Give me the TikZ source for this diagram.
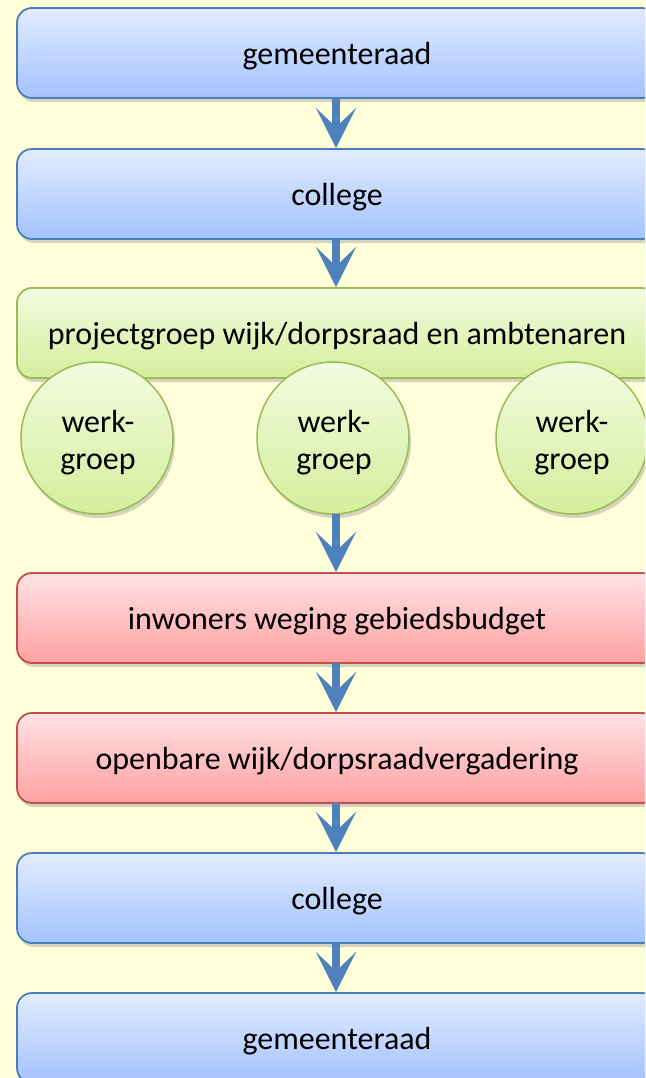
\documentclass[tikz,border=0pt]{standalone}
\usepackage{fontspec}
\setmainfont{Carlito}
\usetikzlibrary{arrows.meta,shadows}
\definecolor{bg}{HTML}{FFFFD9}
\definecolor{bluetop}{HTML}{E2ECFF}
\definecolor{bluebot}{HTML}{A3C2FE}
\definecolor{blueline}{HTML}{4A7EBB}
\definecolor{greentop}{HTML}{F2FBE0}
\definecolor{greenbot}{HTML}{D4EE9C}
\definecolor{greenline}{HTML}{9BBB59}
\definecolor{redtop}{HTML}{FFE2E5}
\definecolor{redbot}{HTML}{FFA1A1}
\definecolor{redline}{HTML}{C0504D}
\definecolor{arrowcol}{HTML}{4F81BD}
\tikzset{
  boxbase/.style={rectangle, rounded corners=15pt, minimum width=640pt, minimum height=90pt,
    line width=1.8pt, font=\fontsize{32}{38}\selectfont, text=black,
    drop shadow={shadow xshift=2pt, shadow yshift=-4pt, opacity=0.3, fill=black!55}},
  bluebox/.style={boxbase, draw=blueline, top color=bluetop, bottom color=bluebot},
  greenbox/.style={boxbase, draw=greenline, top color=greentop, bottom color=greenbot},
  redbox/.style={boxbase, draw=redline, top color=redtop, bottom color=redbot},
  wgcircle/.style={circle, minimum size=152pt, inner sep=0pt, line width=1.5pt, draw=greenline,
    top color=greentop, bottom color=greenbot, align=center,
    font=\fontsize{32}{37}\selectfont, text=black,
    drop shadow={shadow xshift=2pt, shadow yshift=-4pt, opacity=0.3, fill=black!55}},
  lbl/.style={font=\fontsize{32}{37}\selectfont, text=black, align=center, inner sep=0pt},
  flow/.style={draw=arrowcol, line width=8pt,
    -{Stealth[length=40pt, width=40pt, inset=19pt, fill=arrowcol]}, shorten <=-1pt}
}
\begin{document}
\begin{tikzpicture}[x=1pt,y=-1pt]
\useasboundingbox (0,0) rectangle (645,1078);
\clip (0,0) rectangle (645,1078);
\fill[bg] (0,0) rectangle (645,1078);
\node[bluebox] (b1) at (337,53) {};
\node[bluebox] (b2) at (337,194) {};
\node[greenbox] (b3) at (337,333) {};
\node[wgcircle] (c1) at (97,438) {};
\node[wgcircle] (c2) at (333,438) {};
\node[wgcircle] (c3) at (572,438) {};
\node[redbox] (b4) at (337,618) {};
\node[redbox] (b5) at (337,758) {};
\node[bluebox] (b6) at (337,898) {};
\node[bluebox] (b7) at (337,1038) {};
\node[lbl] (t1) at (337,56) {gemeenteraad};
\node[lbl] (t2) at (337,197) {college};
\node[lbl] (t3) at (337,336) {projectgroep wijk/dorpsraad en ambtenaren};
\node[lbl] (t4) at (98,443) {werk-\\groep};
\node[lbl] (t5) at (334,443) {werk-\\groep};
\node[lbl] (t6) at (572,443) {werk-\\groep};
\node[lbl] (t7) at (337,621) {inwoners weging gebiedsbudget};
\node[lbl] (t8) at (337,761) {openbare wijk/dorpsraadvergadering};
\node[lbl] (t9) at (337,901) {college};
\node[lbl] (t10) at (337,1041) {gemeenteraad};
\draw[flow] ([xshift=-1pt]b1.south) -- ([xshift=-1pt]b2.north);
\draw[flow] ([xshift=-1pt]b2.south) -- ([xshift=-1pt]b3.north);
\draw[flow] ([xshift=3pt]c2.south) -- ([xshift=-1pt]b4.north);
\draw[flow] ([xshift=-1pt]b4.south) -- ([xshift=-1pt]b5.north);
\draw[flow] ([xshift=-1pt]b5.south) -- ([xshift=-1pt]b6.north);
\draw[flow] ([xshift=-1pt]b6.south) -- ([xshift=-1pt]b7.north);
\end{tikzpicture}
\end{document}
